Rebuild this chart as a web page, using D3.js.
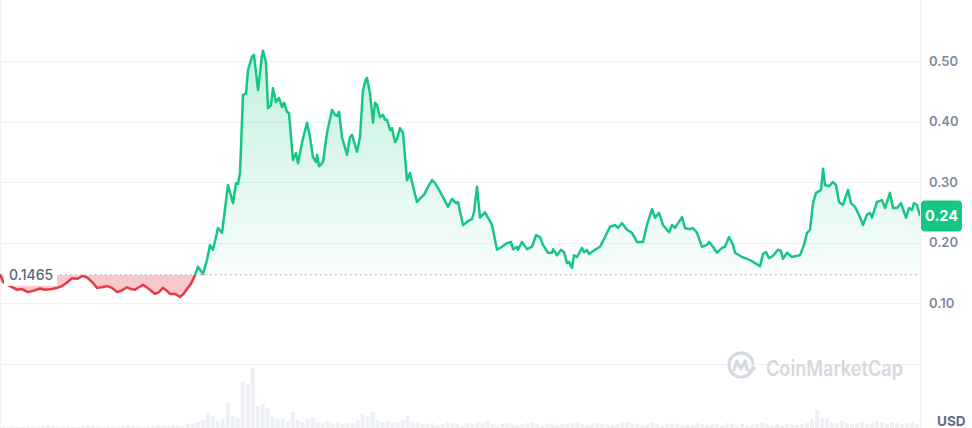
<!DOCTYPE html>
<html>
<head>
<meta charset="utf-8">
<script src="https://cdn.jsdelivr.net/npm/d3@7"></script>
<style>
  html, body { margin: 0; padding: 0; background: #fff; }
  svg { display: block; font-family: Inter, "Noto Sans", sans-serif; }
</style>
</head>
<body>
<svg id="chart" width="972" height="428"></svg>
<script>
// ---- data (day offset, price in USD) ----
const priceHistory = [
 [0,0.148],[1.5,0.135],[5,0.128],[8.5,0.122],[11,0.123],[14,0.118],[16.5,0.120],[20,0.124],[22.5,0.122],[26,0.123],
 [28.5,0.125],[31,0.128],[33.5,0.134],[36,0.141],[38.5,0.140],[41.5,0.145],[44,0.141],[46.5,0.133],[48.5,0.125],[51,0.126],
 [53.5,0.128],[56,0.125],[58.5,0.118],[61,0.121],[63.5,0.126],[65.5,0.123],[67.5,0.122],[69.5,0.126],[71.5,0.130],[74.5,0.123],
 [77.5,0.115],[79.5,0.118],[81.5,0.125],[83.5,0.120],[85,0.115],[87.5,0.115],[90,0.110],[92,0.116],[93.5,0.123],[95.5,0.132],
 [97.5,0.146],[99,0.160],[101.5,0.148],[103.5,0.171],[105,0.196],[106.5,0.188],[109,0.224],[111,0.216],[114,0.295],[116.5,0.265],
 [118,0.298],[119,0.297],[120,0.315],[121.5,0.444],[123,0.446],[124,0.485],[126,0.507],[127,0.510],[129,0.452],[131,0.510],
 [131.5,0.517],[133,0.498],[134,0.422],[135.5,0.427],[136.5,0.455],[138,0.432],[139.5,0.439],[141,0.424],[142,0.431],[143.5,0.416],
 [144.5,0.414],[146.5,0.336],[148,0.348],[149,0.331],[151,0.365],[153.5,0.398],[155,0.374],[156.5,0.341],[158,0.333],[158.5,0.345],
 [159.5,0.326],[161.5,0.333],[163.5,0.381],[164,0.389],[166,0.419],[167.5,0.411],[168.5,0.409],[169.5,0.416],[171,0.374],[173.5,0.345],
 [175,0.374],[176,0.378],[178.5,0.350],[180,0.374],[181.5,0.452],[183,0.470],[183.5,0.472],[185,0.447],[186.5,0.398],[187.5,0.431],
 [188.5,0.427],[190,0.407],[191.5,0.411],[192.5,0.403],[193.5,0.403],[195,0.386],[196,0.389],[197.5,0.366],[198.5,0.371],[200,0.389],
 [201.5,0.381],[203.5,0.303],[205,0.315],[206.5,0.293],[208.5,0.267],[210.5,0.274],[212,0.279],[214,0.292],[216,0.303],[217.5,0.298],
 [219,0.290],[221.5,0.275],[224,0.259],[226,0.272],[228,0.265],[229,0.267],[231.5,0.229],[233.5,0.234],[236,0.239],[237,0.250],
 [238.5,0.292],[240,0.241],[242.5,0.250],[246,0.229],[248.5,0.188],[251,0.193],[253.5,0.199],[255.5,0.201],[256.5,0.189],[258.5,0.193],
 [259,0.188],[261,0.201],[263.5,0.189],[266,0.193],[268,0.212],[270,0.209],[271.5,0.196],[274,0.183],[276,0.183],[276.5,0.189],
 [278.5,0.179],[280.5,0.188],[282,0.184],[283.5,0.166],[284.5,0.168],[286,0.158],[287,0.179],[288.5,0.176],[291,0.191],[292,0.184],
 [293.5,0.188],[294.5,0.181],[297.5,0.188],[300,0.193],[302.5,0.209],[305,0.226],[307.5,0.229],[309,0.224],[311,0.232],[313.5,0.221],
 [316,0.216],[318.5,0.201],[321.5,0.201],[323.5,0.229],[326,0.255],[327.5,0.241],[329.5,0.249],[331.5,0.229],[334.5,0.217],[336,0.229],
 [337.5,0.224],[339,0.232],[341,0.242],[342.5,0.224],[345,0.222],[346.5,0.224],[348.5,0.216],[351,0.193],[353.5,0.196],[354.5,0.201],
 [356.5,0.193],[358.5,0.183],[361,0.191],[362.5,0.193],[364.5,0.209],[366.5,0.196],[367.5,0.183],[371,0.176],[373.5,0.173],[375,0.171],
 [376.5,0.168],[380,0.161],[381.5,0.181],[383,0.184],[384.5,0.174],[386.5,0.178],[389,0.188],[390.5,0.186],[391.5,0.173],[393.5,0.183],
 [396,0.176],[398.5,0.178],[400,0.179],[402,0.196],[403.5,0.216],[405,0.221],[406.5,0.265],[408,0.282],[409.5,0.285],[410.5,0.287],
 [411.5,0.322],[412.5,0.295],[414.5,0.293],[416.5,0.300],[418,0.295],[419.5,0.267],[421.5,0.262],[424,0.287],[425.5,0.265],[427.5,0.259],
 [430,0.242],[431.5,0.229],[433.5,0.246],[435,0.249],[436,0.241],[438.5,0.267],[441,0.270],[442.5,0.257],[445,0.282],[446.5,0.257],
 [448.5,0.257],[450.5,0.265],[453,0.241],[454.5,0.257],[456,0.254],[457,0.265],[458.5,0.262],[459.5,0.250],[460,0.244]
];
const referencePrice = 0.1465;
const yTicks = [0.1, 0.2, 0.3, 0.4, 0.5];
const gridValues = [0, 0.1, 0.2, 0.3, 0.4, 0.5];
const volumes = [
 2,1,2,1,1,2,2,1,2,3,2,1,2,2,1,1,2,3,2,2,1,2,2,1,2,3,2,2,1,2,2,3,2,2,3,3,2,4,5,
 6,8,15,12,7,9,25,12,10,46,44,
 60,22,24,20,12,9,10,7,16,8,6,9,10,6,5,7,5,6,4,5,5,8,14,11,16,8,6,7,5,6,8,12,6,5,4,
 4,5,3,4,6,5,4,3,5,4, 6,5,7,4,3,4,5,4,3,4, 5,6,4,3,4,5,3,4,4,5, 6,4,3,4,5,4,3,3,4,5,
 6,5,4,3,4,5,4,3,4,5, 4,3,4,3,5,4,3,4,4,3, 5,4,3,4,3,3,4,5,4,3, 4,3,4,3,3,4,5,9,18,10,
 9,6,5,7,5,4,5,6,4,5, 7,5,4,6,5,4,5,6,4
];
const currencyLabel = "USD";
const watermark = "CoinMarketCap";

// ---- layout ----
const W = 972, H = 428;
const plotRight = 920;
const svg = d3.select("#chart");

const x = d3.scaleLinear().domain([0, 460]).range([0, plotRight]);
const y = d3.scaleLinear().domain([0, 0.5]).range([363.5, 61]);
const xVol = d3.scaleBand().domain(d3.range(volumes.length)).range([0, plotRight]).padding(0.22);
const yVol = d3.scaleLinear().domain([0, 60]).range([428, 368]);

const GREEN = "#16c784", RED = "#ea3943";
const baseY = y(referencePrice);

const defs = svg.append("defs");
const gg = defs.append("linearGradient").attr("id", "gGreen")
  .attr("gradientUnits", "userSpaceOnUse").attr("x1", 0).attr("x2", 0)
  .attr("y1", y(0.52)).attr("y2", baseY);
gg.append("stop").attr("offset", 0).attr("stop-color", GREEN).attr("stop-opacity", 0.26);
gg.append("stop").attr("offset", 1).attr("stop-color", GREEN).attr("stop-opacity", 0.03);
defs.append("clipPath").attr("id", "clipAbove").append("rect")
  .attr("x", 0).attr("y", 0).attr("width", plotRight).attr("height", baseY);
defs.append("clipPath").attr("id", "clipBelow").append("rect")
  .attr("x", 0).attr("y", baseY).attr("width", plotRight).attr("height", H - baseY);

// frame lines
svg.append("line").attr("x1", 0.5).attr("x2", 0.5).attr("y1", 0).attr("y2", H)
  .attr("stroke", "#eff2f5");
svg.append("line").attr("x1", plotRight + 0.5).attr("x2", plotRight + 0.5).attr("y1", 0).attr("y2", H)
  .attr("stroke", "#eff2f5");

// grid
svg.append("g").selectAll("line").data(gridValues).join("line")
  .attr("x1", 0).attr("x2", plotRight)
  .attr("y1", d => Math.round(y(d)) + 0.5).attr("y2", d => Math.round(y(d)) + 0.5)
  .attr("stroke", "#eff2f5").attr("stroke-width", 1);

// volume bars
svg.append("g").selectAll("rect").data(volumes).join("rect")
  .attr("x", (d, i) => xVol(i)).attr("width", xVol.bandwidth())
  .attr("y", d => yVol(d)).attr("height", d => 428 - yVol(d))
  .attr("fill", "#edf0f4");

// watermark
const wm = svg.append("g").attr("fill", "none").attr("stroke", "#d5d9e2")
  .attr("stroke-width", 3.2).attr("stroke-linecap", "round").attr("stroke-linejoin", "round");
const cx = 741, cy = 365, r = 12;
const arc = d3.arc().innerRadius(r).outerRadius(r).startAngle(0.55 * Math.PI).endAngle(2.45 * Math.PI);
wm.append("path").attr("transform", `translate(${cx},${cy})`).attr("d", arc());
wm.append("path").attr("d", `M${cx-7},${cy+5} L${cx-4},${cy-4} L${cx},${cy+4} L${cx+4},${cy-4} L${cx+6},${cy+4} Q${cx+9},${cy+9} ${cx+13},${cy+3}`);
svg.append("text").attr("x", 766).attr("y", 376).attr("font-size", 21).attr("font-weight", 600)
  .attr("fill", "#d5d9e2").attr("textLength", 137).attr("lengthAdjust", "spacingAndGlyphs")
  .text(watermark);

// areas
const areaGen = d3.area().x(d => x(d[0])).y0(baseY).y1(d => y(d[1]));
const lineGen = d3.line().x(d => x(d[0])).y(d => y(d[1]));

svg.append("path").datum(priceHistory).attr("d", areaGen)
  .attr("fill", "url(#gGreen)").attr("clip-path", "url(#clipAbove)");
svg.append("path").datum(priceHistory).attr("d", areaGen)
  .attr("fill", RED).attr("fill-opacity", 0.28).attr("clip-path", "url(#clipBelow)");

// reference line
svg.append("line").attr("x1", 0).attr("x2", plotRight)
  .attr("y1", baseY).attr("y2", baseY)
  .attr("stroke", "#a1a7bb").attr("stroke-width", 1).attr("stroke-dasharray", "1.5,3.5");

// price lines
svg.append("path").datum(priceHistory).attr("d", lineGen)
  .attr("fill", "none").attr("stroke", GREEN).attr("stroke-width", 2.5)
  .attr("stroke-linejoin", "round").attr("clip-path", "url(#clipAbove)");
svg.append("path").datum(priceHistory).attr("d", lineGen)
  .attr("fill", "none").attr("stroke", RED).attr("stroke-width", 2.5)
  .attr("stroke-linejoin", "round").attr("clip-path", "url(#clipBelow)");

// reference label
svg.append("rect").attr("x", 4).attr("y", baseY - 11).attr("width", 53).attr("height", 22)
  .attr("fill", "#fff");
svg.append("text").attr("x", 9).attr("y", baseY).attr("dy", "0.36em")
  .attr("font-size", 14).attr("font-weight", 500).attr("fill", "#58667e")
  .text(referencePrice.toFixed(4));

// right axis labels
svg.append("g").selectAll("text").data(yTicks).join("text")
  .attr("x", 929).attr("y", d => y(d)).attr("dy", "0.36em")
  .attr("font-size", 13).attr("font-weight", 600).attr("fill", "#808a9d")
  .text(d => d3.format(".2f")(d));

// current price badge
const last = priceHistory[priceHistory.length - 1];
const ly = y(last[1]);
svg.append("rect").attr("x", 921).attr("y", ly - 15.5).attr("width", 41).attr("height", 31)
  .attr("rx", 4).attr("fill", GREEN);
svg.append("text").attr("x", 941.5).attr("y", ly).attr("dy", "0.36em").attr("text-anchor", "middle")
  .attr("font-size", 14.5).attr("font-weight", 700).attr("fill", "#fff")
  .text(d3.format(".2f")(last[1]));

// currency
svg.append("text").attr("x", 937).attr("y", 426)
  .attr("font-size", 13.5).attr("font-weight", 700).attr("fill", "#616e85")
  .text(currencyLabel);
</script>
</body>
</html>
